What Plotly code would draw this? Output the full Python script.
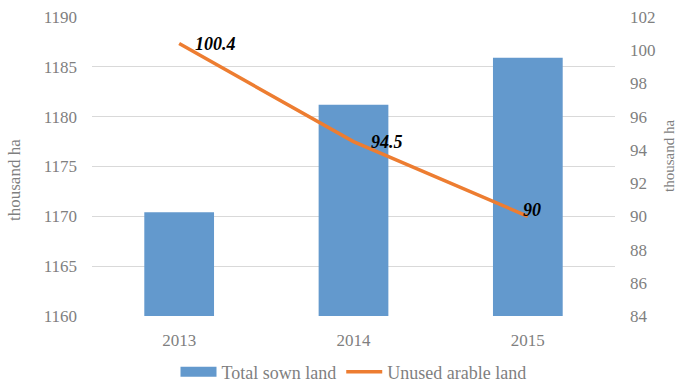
import plotly.graph_objects as go

# Land use figures, thousand hectares
years = ["2013", "2014", "2015"]
total_sown = [1170.4, 1181.2, 1185.9]
unused_arable = [100.4, 94.5, 90]
left_ticks = [1160, 1165, 1170, 1175, 1180, 1185, 1190]
right_ticks = [84, 86, 88, 90, 92, 94, 96, 98, 100, 102]

FONT = "Liberation Serif"
GREY = "#7f7f7f"
BLUE = "#6399cd"
ORANGE = "#ed7d31"

# plot area in pixels: left 92, right 615, top 17, bottom 316
L, R, T, B = 92, 615, 17, 316
PW, PH = R - L, B - T

fig = go.Figure()
fig.add_trace(go.Bar(
    x=years, y=total_sown, name="Total sown land",
    marker=dict(color=BLUE, line=dict(width=0)), width=0.4,
    yaxis="y", showlegend=False,
))
# legend entry for the bars drawn as a wide flat swatch
fig.add_trace(go.Scatter(
    x=[None], y=[None], name="Total sown land",
    mode="lines", line=dict(color=BLUE, width=10),
    yaxis="y",
))
fig.add_trace(go.Scatter(
    x=years, y=unused_arable, name="Unused arable land",
    mode="lines", line=dict(color=ORANGE, width=3.5),
    yaxis="y2",
))

annotations = []
# value labels beside the line points (x given as category index)
label_offsets = [(14, 0, "left"), (15, 0, "left"), (4, 6, "center")]
for i, (v, (dx, dy, anchor)) in enumerate(zip(unused_arable, label_offsets)):
    annotations.append(dict(
        x=i, y=v, xref="x", yref="y2", text=f"<b><i>{v:g}</i></b>",
        showarrow=False, xanchor=anchor, yanchor="middle",
        xshift=dx, yshift=dy,
        font=dict(family=FONT, size=18, color="#000000"),
    ))

# axis titles
annotations.append(dict(
    x=(14 - L) / PW, y=(B - 180) / PH, xref="paper", yref="paper",
    xanchor="center", yanchor="middle",
    text="thousand ha", showarrow=False, textangle=-90,
    font=dict(family=FONT, size=17, color=GREY),
))
annotations.append(dict(
    x=(669 - L) / PW, y=(B - 156) / PH, xref="paper", yref="paper",
    xanchor="center", yanchor="middle",
    text="thousand ha", showarrow=False, textangle=-90,
    font=dict(family=FONT, size=15, color=GREY),
))

fig.update_layout(
    width=680, height=384,
    margin=dict(l=L, r=680 - R, t=T, b=384 - B, autoexpand=False),
    paper_bgcolor="white", plot_bgcolor="white",
    font=dict(family=FONT, size=17, color=GREY),
    showlegend=True,
    legend=dict(
        orientation="h", x=0.5, xanchor="center",
        y=-(372 - B) / PH, yanchor="middle",
        font=dict(family=FONT, size=18, color=GREY),
        itemwidth=36,
    ),
    annotations=annotations,
    xaxis=dict(
        type="category", range=[-0.5, 2.5], showgrid=False,
        showline=False, ticks="", ticklabelstandoff=12,
        tickfont=dict(family=FONT, size=17, color=GREY),
    ),
    yaxis=dict(
        range=[1160, 1190], tickvals=left_ticks,
        showgrid=True, gridcolor="#d9d9d9", gridwidth=1,
        zeroline=False, showline=False, ticks="", ticklabelstandoff=14,
        tickfont=dict(family=FONT, size=17, color=GREY),
    ),
    yaxis2=dict(
        range=[84, 102], tickvals=right_ticks, overlaying="y", side="right",
        showgrid=False, zeroline=False, showline=False, ticks="",
        ticklabelstandoff=14,
        tickfont=dict(family=FONT, size=17, color=GREY),
    ),
)

fig.write_html("out.html")
